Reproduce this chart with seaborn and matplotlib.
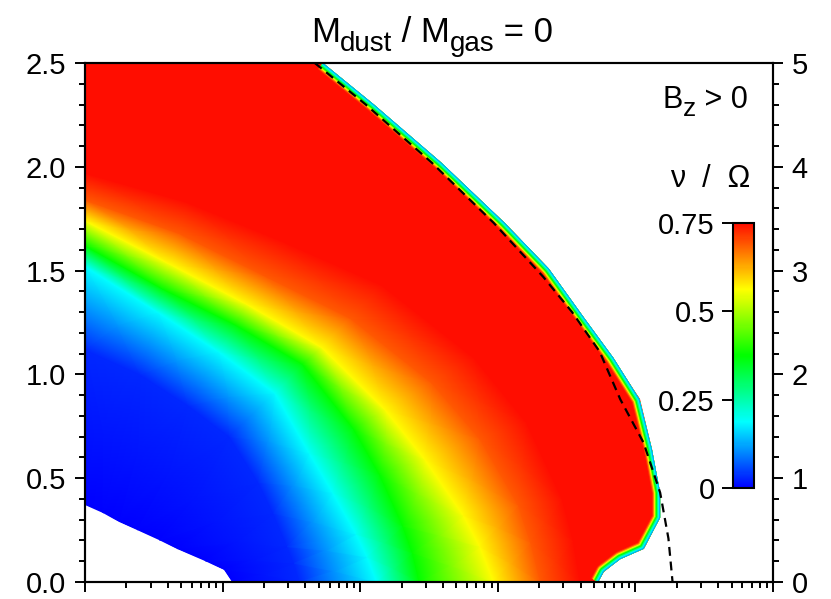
import numpy as np
import matplotlib
matplotlib.use("Agg")
import matplotlib.pyplot as plt
import seaborn as sns
from matplotlib.colors import LinearSegmentedColormap, Normalize
from matplotlib.patches import Polygon
from matplotlib.ticker import MultipleLocator, LogLocator, NullFormatter

# -------------------------------
# Data (x axis is log10 x, 5 decades)
# -------------------------------

# nu/Omega value carried by each contour line
levels = [0.0, 0.03, 0.1875, 0.375, 0.5625, 0.69, 0.75, 0.75]

# contour lines, from the left edge / top down to the bottom edge
white_edge_logx = [0.00, 0.13, 0.25, 0.38, 0.54, 0.67, 0.87, 1.01, 1.07]
white_edge_y = [0.37, 0.33, 0.29, 0.25, 0.20, 0.16, 0.10, 0.06, 0.00]

blue_logx = [0.00, 0.40, 0.75, 1.05, 1.26, 1.37, 1.47, 1.52, 1.56]
blue_y = [1.12, 1.00, 0.85, 0.70, 0.48, 0.33, 0.17, 0.09, 0.00]

cyan_logx = [0.00, 0.53, 0.97, 1.38, 1.63, 1.80, 1.97, 2.05, 2.12]
cyan_y = [1.52, 1.30, 1.11, 0.91, 0.62, 0.43, 0.23, 0.12, 0.00]

green_logx = [0.00, 0.57, 1.09, 1.58, 1.95, 2.14, 2.31, 2.38, 2.43]
green_y = [1.62, 1.41, 1.24, 1.05, 0.74, 0.52, 0.27, 0.14, 0.00]

yellow_logx = [0.00, 0.62, 1.17, 1.72, 2.18, 2.47, 2.75, 2.87, 2.97]
yellow_y = [1.74, 1.53, 1.34, 1.13, 0.83, 0.59, 0.32, 0.17, 0.00]

orange_logx = [0.00, 0.68, 1.29, 1.93, 2.52, 2.87, 3.15, 3.24, 3.31]
orange_y = [1.84, 1.68, 1.48, 1.27, 0.96, 0.69, 0.37, 0.19, 0.00]

red_logx = [0.00, 0.74, 1.44, 2.16, 2.83, 3.21, 3.47, 3.55, 3.60]
red_y = [1.97, 1.83, 1.64, 1.43, 1.08, 0.77, 0.40, 0.20, 0.00]

red_far_logx = [0.00, 1.05, 2.13, 2.96, 3.71, 4.13, 4.33, 4.34, 3.89]
red_far_y = [2.62, 2.60, 2.43, 1.95, 1.42, 0.99, 0.50, 0.25, 0.00]

# outer edge of the unstable region
edge_logx = [1.73, 2.10, 2.59, 3.05, 3.37, 3.63, 3.84, 4.03, 4.12, 4.18, 4.18, 4.06, 3.89, 3.77, 3.73]
edge_y = [2.50, 2.30, 2.02, 1.73, 1.51, 1.27, 1.08, 0.88, 0.64, 0.43, 0.31, 0.16, 0.11, 0.05, 0.00]

# dashed curve
dash_logx = [1.67, 2.04, 2.52, 2.97, 3.33, 3.54, 3.74, 3.89, 4.06, 4.18, 4.24, 4.27]
dash_y = [2.50, 2.30, 2.02, 1.73, 1.47, 1.30, 1.11, 0.88, 0.67, 0.43, 0.21, 0.00]

cbar_ticks = [0, 0.25, 0.5, 0.75]
cbar_labels = ["0", "0.25", "0.5", "0.75"]

# -------------------------------
# Style
# -------------------------------

sns.set_style("ticks")
plt.rcParams['font.family'] = ['Liberation Sans', 'DejaVu Sans']
plt.rcParams['mathtext.fontset'] = 'custom'
plt.rcParams['mathtext.rm'] = 'Liberation Sans'
plt.rcParams['mathtext.it'] = 'Liberation Sans:italic'
plt.rcParams['text.color'] = 'black'

cmap = LinearSegmentedColormap.from_list(
    "nu", ["#0000ff", "#00ffff", "#00ff00", "#ffff00", "#ff0d00"])
norm = Normalize(vmin=0, vmax=0.75)

W, H = 831, 599
fig = plt.figure(figsize=(W / 100, H / 100), dpi=100)
ax = fig.add_axes([85 / W, 17 / H, 688 / W, 519 / H])
ax.set_xscale('log')
ax.set_xlim(1, 1e5)
ax.set_ylim(0, 2.5)

# -------------------------------
# Growth-rate map
# -------------------------------

U = np.array([white_edge_logx, blue_logx, cyan_logx, green_logx,
              yellow_logx, orange_logx, red_logx, red_far_logx])
Y = np.array([white_edge_y, blue_y, cyan_y, green_y,
              yellow_y, orange_y, red_y, red_far_y])
C = np.repeat(np.array(levels)[:, None], U.shape[1], axis=1)

mesh = ax.pcolormesh(10 ** U, Y, C, shading='gouraud', cmap=cmap, norm=norm)

# region that is coloured
clip_x = ([1.0] + list(10 ** np.array(edge_logx))
          + list(10 ** np.array(white_edge_logx[::-1])))
clip_y = [2.5] + edge_y + white_edge_y[::-1]
clip = Polygon(np.column_stack([clip_x, clip_y]), closed=True,
               transform=ax.transData, facecolor='none', edgecolor='none')
mesh.set_clip_path(clip)

# thin rim where the rate drops to zero at the edge
rim_levels = [0.72, 0.65, 0.5625, 0.47, 0.375, 0.28, 0.2, 0.12]
rim_widths = [11.5, 10.1, 8.6, 7.5, 6.3, 4.6, 3.0, 1.4]
for v, w in zip(rim_levels, rim_widths):
    line, = ax.plot(10 ** np.array(edge_logx), edge_y, color=cmap(norm(v)),
                    lw=w, solid_joinstyle='round', solid_capstyle='butt')
    line.set_clip_path(clip)

ax.plot(10 ** np.array(dash_logx), dash_y, color='black', lw=1.6,
        linestyle=(0, (4, 2.6)), dash_capstyle='butt')

# -------------------------------
# Axes and ticks
# -------------------------------

for s in ax.spines.values():
    s.set_linewidth(1.5)
    s.set_color('black')

ax.xaxis.set_major_locator(LogLocator(base=10))
ax.xaxis.set_minor_locator(LogLocator(base=10, subs=np.arange(2, 10)))
ax.xaxis.set_major_formatter(NullFormatter())
ax.xaxis.set_minor_formatter(NullFormatter())
ax.yaxis.set_minor_locator(MultipleLocator(0.1))
ax.set_yticks([0, 0.5, 1.0, 1.5, 2.0, 2.5])
ax.set_yticklabels(["0.0", "0.5", "1.0", "1.5", "2.0", "2.5"])
ax.tick_params(which='both', direction='out', top=False, right=False,
               width=1.4, colors='black', labelsize=21, pad=6)
ax.tick_params(which='major', length=7.5)
ax.tick_params(which='minor', length=4.5)

ax2 = ax.twinx()
ax2.set_ylim(0, 5)
ax2.yaxis.set_major_locator(MultipleLocator(1))
ax2.yaxis.set_minor_locator(MultipleLocator(0.2))
ax2.tick_params(which='both', direction='out', width=1.4, colors='black',
                labelsize=21, pad=6)
ax2.tick_params(which='major', length=7.5)
ax2.tick_params(which='minor', length=4.5)
for s in ax2.spines.values():
    s.set_linewidth(1.5)
    s.set_color('black')

# -------------------------------
# Colour bar and labels
# -------------------------------

cax = fig.add_axes([733 / W, (H - 488) / H, 21 / W, 265 / H])
cb = fig.colorbar(mesh, cax=cax, ticks=cbar_ticks)
cb.ax.yaxis.set_ticks_position('left')
cb.ax.set_yticklabels(cbar_labels)
cb.ax.tick_params(direction='out', length=8, width=1.4, colors='black',
                  labelsize=21, pad=5)
cb.ax.minorticks_off()
cb.outline.set_linewidth(1.5)
cb.outline.set_edgecolor('black')

renderer = fig.canvas.get_renderer()


def pieced_text(parts, x_px, y_px, align):
    # parts: (text, size, drop in px); written left to right on one baseline
    items, width = [], 0
    for s, size, drop in parts:
        t = fig.text(0, 0, s, fontsize=size, va='baseline', ha='left',
                     color='black')
        items.append((t, width, drop))
        width += t.get_window_extent(renderer).width
    x0 = x_px - width / 2 if align == 'center' else x_px - width
    for t, off, drop in items:
        t.set_position(((x0 + off) / W, (H - y_px - drop) / H))


pieced_text([("M", 25, 0), ("dust", 20, 9), (" / M", 25, 0),
             ("gas", 20, 9), (" = 0", 25, 0)], 432, 42, 'center')
pieced_text([("B", 22, 0), ("z", 19, 8), (" > 0", 22, 0)], 748, 108, 'right')
pieced_text([("ν  /  Ω", 22, 0)], 750, 187, 'right')

fig.savefig("out.png", dpi=100)
